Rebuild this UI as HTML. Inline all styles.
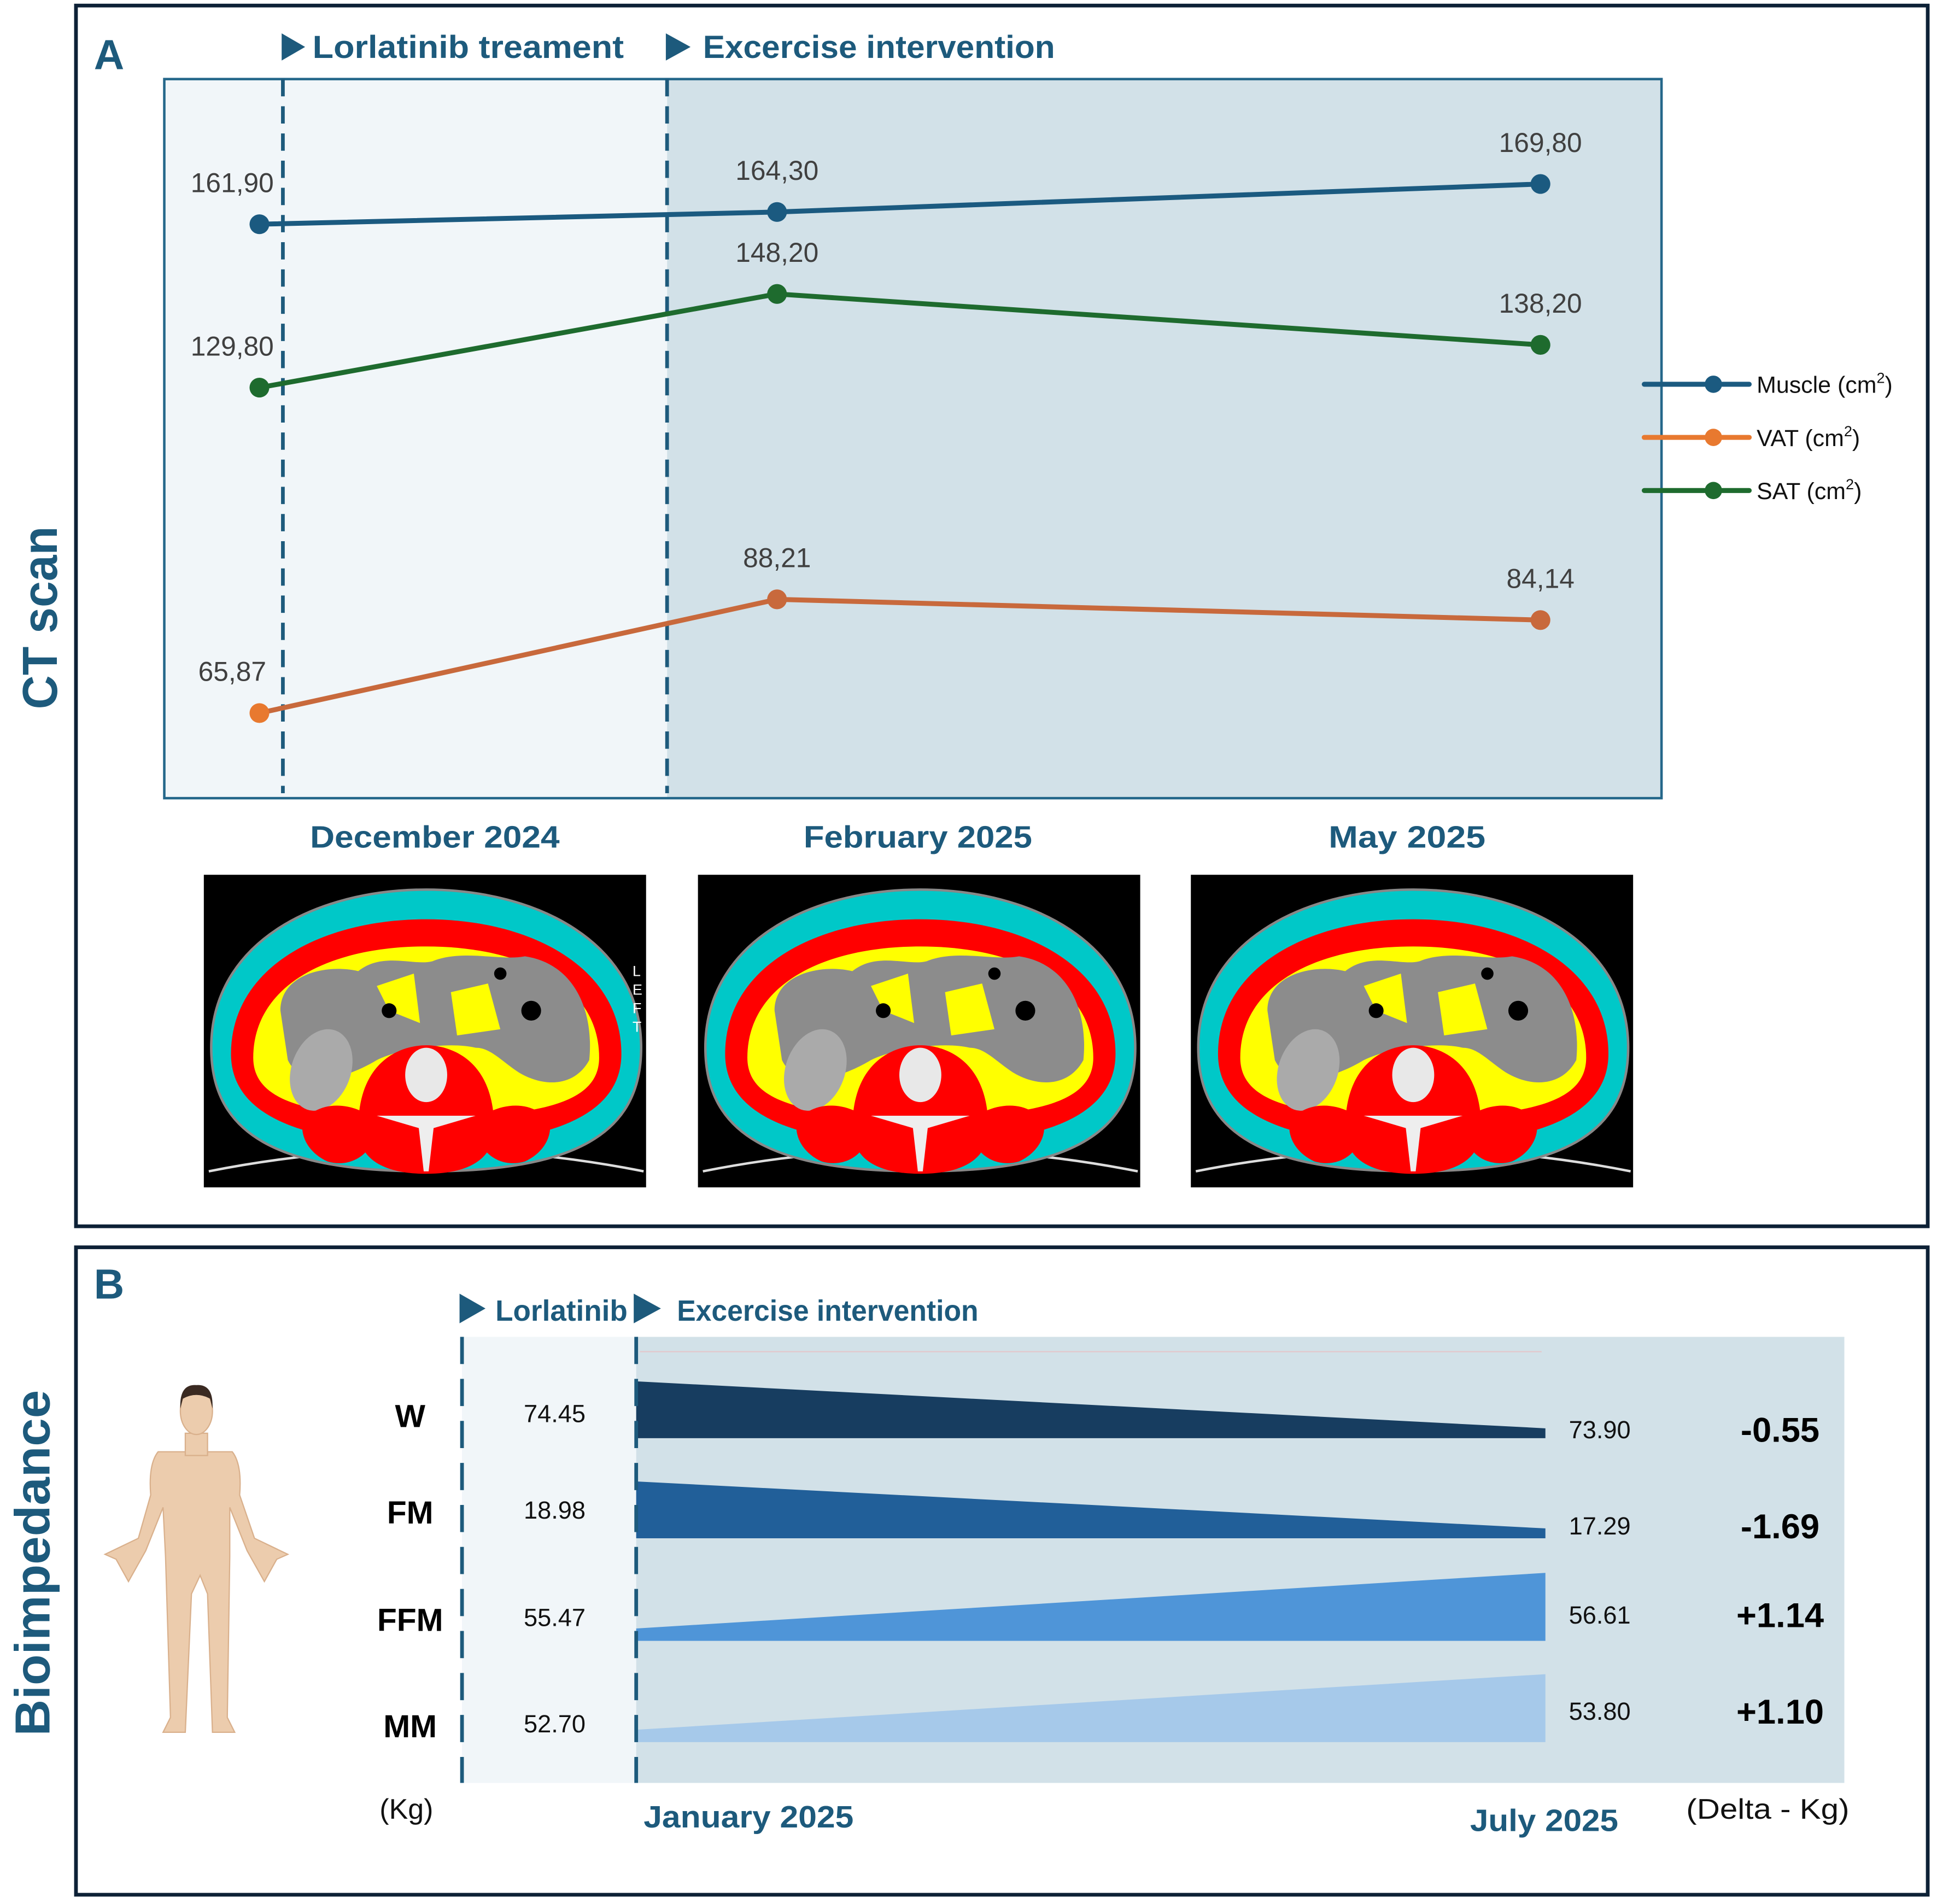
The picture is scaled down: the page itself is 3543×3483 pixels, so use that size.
<!DOCTYPE html>
<html><head><meta charset="utf-8"><style>
html,body{margin:0;padding:0;background:#fff;}
svg{display:block;}
text{font-family:"Liberation Sans",sans-serif;}
.hd{font-weight:bold;fill:#1d5a7c;}
</style></head><body>
<svg id="fig" width="3543" height="3483" viewBox="0 0 1568 1541" preserveAspectRatio="none" xmlns="http://www.w3.org/2000/svg">
<defs>
<g id="ct">
<rect x="0" y="0" width="358" height="253" fill="#000"/>
<path d="M4,240 Q180,205 356,240" stroke="#ddd" stroke-width="2" fill="none"/>
<path d="M6,140 C6,55 90,12 180,12 C270,12 354,55 354,140 C354,210 300,240 180,240 C60,240 6,210 6,140 Z" fill="#00c8c8" stroke="#888" stroke-width="2"/>
<path d="M22,145 C22,75 95,36 180,36 C265,36 338,75 338,145 C338,195 280,218 180,218 C80,218 22,195 22,145 Z" fill="#f00"/>
<path d="M40,148 C40,90 100,58 180,58 C260,58 320,90 320,148 C320,182 280,196 180,196 C80,196 40,182 40,148 Z" fill="#ff0"/>
<path d="M62,110 C62,80 100,72 125,78 C145,62 170,74 185,70 C210,60 240,70 260,66 C300,72 316,110 312,150 C300,172 275,172 255,160 C240,150 232,140 220,140 C200,135 160,140 140,150 C115,165 80,175 68,150 Z" fill="#8c8c8c"/>
<path d="M140,90 L170,80 L175,120 L150,110 Z M200,95 L230,88 L240,125 L205,130 Z" fill="#ff0"/>
<ellipse cx="95" cy="158" rx="24" ry="34" fill="#aaa" transform="rotate(20 95 158)"/>
<path d="M125,205 C125,150 160,138 180,138 C200,138 235,150 235,205 C235,238 200,242 180,242 C160,242 125,238 125,205 Z" fill="#f00"/>
<path d="M80,200 C95,180 125,185 140,200 C140,225 120,238 100,232 C85,225 78,212 80,200 Z M220,200 C235,185 265,180 280,200 C282,212 275,225 260,232 C240,238 220,225 220,200 Z" fill="#f00"/>
<ellipse cx="180" cy="162" rx="17" ry="22" fill="#e8e8e8"/>
<path d="M140,195 L220,195 L186,205 L182,240 L178,240 L174,205 Z" fill="#eee"/>
<circle cx="150" cy="110" r="6" fill="#000"/><circle cx="265" cy="110" r="8" fill="#000"/><circle cx="240" cy="80" r="5" fill="#000"/>
</g>
</defs>
<!-- Panel A -->
<rect x="61.5" y="4.5" width="1499" height="988" fill="none" stroke="#0d2136" stroke-width="3"/>
<text x="76" y="56" font-size="34" class="hd">A</text>
<text transform="translate(46,500) rotate(-90)" text-anchor="middle" font-size="40" class="hd" textLength="148" lengthAdjust="spacingAndGlyphs">CT scan</text>
<rect x="133" y="64" width="407" height="582" fill="#f1f6f9"/>
<rect x="540" y="64" width="805" height="582" fill="#d2e1e8"/>
<rect x="133" y="64" width="1212" height="582" fill="none" stroke="#24678a" stroke-width="2"/>
<line x1="229" y1="64" x2="229" y2="642" stroke="#1d5a7c" stroke-width="3" stroke-dasharray="14,8"/>
<line x1="540" y1="64" x2="540" y2="642" stroke="#1d5a7c" stroke-width="3" stroke-dasharray="14,8"/>
<polygon points="228,27 247,38 228,49" fill="#1d5a7c"/>
<text x="253" y="47" font-size="26" class="hd" textLength="252" lengthAdjust="spacingAndGlyphs">Lorlatinib treament</text>
<polygon points="539,27 559,38 539,49" fill="#1d5a7c"/>
<text x="569" y="47" font-size="26" class="hd" textLength="285" lengthAdjust="spacingAndGlyphs">Excercise intervention</text>
<g id="lines"></g>
<g id="legend"></g>
<text x="352" y="686" text-anchor="middle" font-size="25" class="hd" textLength="202" lengthAdjust="spacingAndGlyphs">December 2024</text>
<text x="743" y="686" text-anchor="middle" font-size="25" class="hd" textLength="185" lengthAdjust="spacingAndGlyphs">February 2025</text>
<text x="1139" y="686" text-anchor="middle" font-size="25" class="hd" textLength="127" lengthAdjust="spacingAndGlyphs">May 2025</text>
<use href="#ct" x="165" y="708"/>
<use href="#ct" x="565" y="708"/>
<use href="#ct" x="964" y="708"/>
<text x="512" y="790" font-size="12" fill="#fff">L</text>
<text x="512" y="805" font-size="12" fill="#fff">E</text>
<text x="512" y="820" font-size="12" fill="#fff">F</text>
<text x="512" y="835" font-size="12" fill="#fff">T</text>

<!-- Panel B -->
<rect x="61.5" y="1009.5" width="1499" height="524" fill="none" stroke="#0d2136" stroke-width="3"/>
<text x="76" y="1051" font-size="34" class="hd">B</text>
<text transform="translate(40,1265) rotate(-90)" text-anchor="middle" font-size="40" class="hd" textLength="280" lengthAdjust="spacingAndGlyphs">Bioimpedance</text>
<polygon points="372,1047 393,1059 372,1071" fill="#1d5a7c"/>
<text x="401" y="1069" font-size="24" class="hd" textLength="107" lengthAdjust="spacingAndGlyphs">Lorlatinib</text>
<polygon points="513,1047 535,1059 513,1071" fill="#1d5a7c"/>
<text x="548" y="1069" font-size="24" class="hd" textLength="244" lengthAdjust="spacingAndGlyphs">Excercise intervention</text>
<rect x="374" y="1082" width="141" height="361" fill="#f1f6f9"/>
<rect x="515" y="1082" width="978" height="361" fill="#d2e1e8"/>
<line x1="518" y1="1094" x2="1248" y2="1094" stroke="#e2c8cc" stroke-width="1"/>
<g id="wedges"></g>
<line x1="374" y1="1082" x2="374" y2="1443" stroke="#1d5a7c" stroke-width="3" stroke-dasharray="22,12"/>
<line x1="515" y1="1082" x2="515" y2="1443" stroke="#1d5a7c" stroke-width="3" stroke-dasharray="22,12"/>
<text x="329" y="1472" text-anchor="middle" font-size="23" fill="#111">(Kg)</text>
<text x="606" y="1479" text-anchor="middle" font-size="25" class="hd" textLength="170" lengthAdjust="spacingAndGlyphs">January 2025</text>
<text x="1250" y="1482" text-anchor="middle" font-size="25" class="hd" textLength="120" lengthAdjust="spacingAndGlyphs">July 2025</text>
<text x="1431" y="1472" text-anchor="middle" font-size="23" fill="#111" textLength="132" lengthAdjust="spacingAndGlyphs">(Delta - Kg)</text>
<g fill="#ecccad" stroke="#d9b08c" stroke-width="1">
<path d="M128,1175 L188,1175 Q196,1185 194,1210 L206,1245 L233,1258 L224,1262 L214,1280 L200,1255 L186,1220 L186,1260 L184,1390 L190,1402 L172,1402 L168,1290 L162,1275 L155,1290 L150,1402 L132,1402 L138,1390 L134,1260 L132,1220 L118,1255 L104,1280 L94,1262 L85,1258 L112,1245 L122,1210 Q120,1185 128,1175 Z"/>
<rect x="150" y="1160" width="18" height="18"/>
<ellipse cx="159" cy="1142" rx="13" ry="19"/>
<path d="M146,1140 Q145,1120 159,1121 Q173,1120 172,1140 L170,1132 Q159,1126 148,1132 Z" fill="#3a2a22" stroke="none"/>
</g>
<g id="rowtext"></g>
</svg>
<script>
// ---- Panel A data ----
const dates = ["December 2024","February 2025","May 2025"];
const muscle = [161.90, 164.30, 169.80];
const vat = [65.87, 88.21, 84.14];
const sat = [129.80, 148.20, 138.20];
const labelsMuscle = ["161,90","164,30","169,80"];
const labelsVat = ["65,87","88,21","84,14"];
const labelsSat = ["129,80","148,20","138,20"];
// ---- Panel B data ----
const rows = ["W","FM","FFM","MM"];
const startVals = [74.45, 18.98, 55.47, 52.70];
const endVals = [73.90, 17.29, 56.61, 53.80];
const deltaLabels = ["-0.55","-1.69","+1.14","+1.10"];

const NS = "http://www.w3.org/2000/svg";
function mk(tag, attrs, parent){const e=document.createElementNS(NS,tag);for(const k in attrs)e.setAttribute(k,attrs[k]);parent.appendChild(e);return e;}
const xPos = [210, 629, 1247];
function xA(i){return xPos[i];}
function yA(v){return 848.5 - v*4.12;}
const lines = document.getElementById('lines');
const series = [
 {name:"muscle", vals:muscle, labels:labelsMuscle, color:"#1b5a80"},
 {name:"sat", vals:sat, labels:labelsSat, color:"#1e6b2e"},
 {name:"vat", vals:vat, labels:labelsVat, color:"#c8693c"}
];
series.forEach(s=>{
  let d="";
  s.vals.forEach((v,i)=>{d+=(i?"L":"M")+xA(i)+","+yA(v);});
  const p=mk('path',{d:d,fill:"none",stroke:s.color,"stroke-width":4},lines);
  
  
  s.vals.forEach((v,i)=>{
    const fill = (s.name==="vat"&&i===0)?"#e8792f":s.color;
    const c=mk('circle',{cx:xA(i),cy:yA(v),r:8,fill:fill},lines);
    
    
    const t=mk('text',{x:xA(i)-(i===0?22:0),y:yA(v)-26,"text-anchor":"middle","font-size":22,fill:"#404040"},lines);
    
    
    t.textContent=s.labels[i];
  });
});
// legend
const legend=document.getElementById('legend');
const legItems=[["Muscle (cm","#1b5a80",311],["VAT (cm","#e8792f",354],["SAT (cm","#1e6b2e",397]];
legItems.forEach(it=>{
  const l=mk('line',{x1:1331,y1:it[2],x2:1416,y2:it[2],stroke:it[1],"stroke-width":4,"stroke-linecap":"round"},legend);
  
  
  mk('circle',{cx:1387,cy:it[2],r:7,fill:it[1]},legend);
  const t=mk('text',{x:1422,y:it[2]+7,"font-size":19,fill:"#111"},legend);
  
  
  t.innerHTML=it[0]+'<tspan dy="-8" font-size="12">2</tspan><tspan dy="8">)</tspan>';
});
// ---- Panel B wedges ----
const wedges=document.getElementById('wedges');
const rowColors=["#173d60","#215f99","#4f95d8","#a6c9ea"];
const rowBase=[1164,1245,1328,1410];
const xStart=515, xEnd=1251;
function thick(delta){return delta<0?[46,8]:[10,55];}
rows.forEach((r,i)=>{
  const delta=endVals[i]-startVals[i];
  const th=thick(delta);
  const b=rowBase[i];
  const pts=[[xStart,b-th[0]],[xEnd,b-th[1]],[xEnd,b],[xStart,b]].map(p=>p.join(",")).join(" ");
  const pg=mk('polygon',{points:pts,fill:rowColors[i]},wedges);
  
  
});
const rowtext=document.getElementById('rowtext');
const labelY=[1155,1233,1320,1406];
const endY=[1164,1242,1314,1392];
rows.forEach((r,i)=>{
  const a=mk('text',{x:332,y:labelY[i],"text-anchor":"middle","font-size":26,"font-weight":"bold",fill:"#000"},rowtext);
  
  
  a.textContent=r;
  const s=mk('text',{x:449,y:labelY[i]-4,"text-anchor":"middle","font-size":20,fill:"#111"},rowtext);
  
  
  s.textContent=startVals[i].toFixed(2);
  const e=mk('text',{x:1295,y:endY[i],"text-anchor":"middle","font-size":20,fill:"#111"},rowtext);
  
  
  e.textContent=endVals[i].toFixed(2);
  const d=mk('text',{x:1441,y:endY[i]+3,"text-anchor":"middle","font-size":28,"font-weight":"bold",fill:"#000"},rowtext);
  
  
  d.textContent=deltaLabels[i];
});
</script>
</body></html>
